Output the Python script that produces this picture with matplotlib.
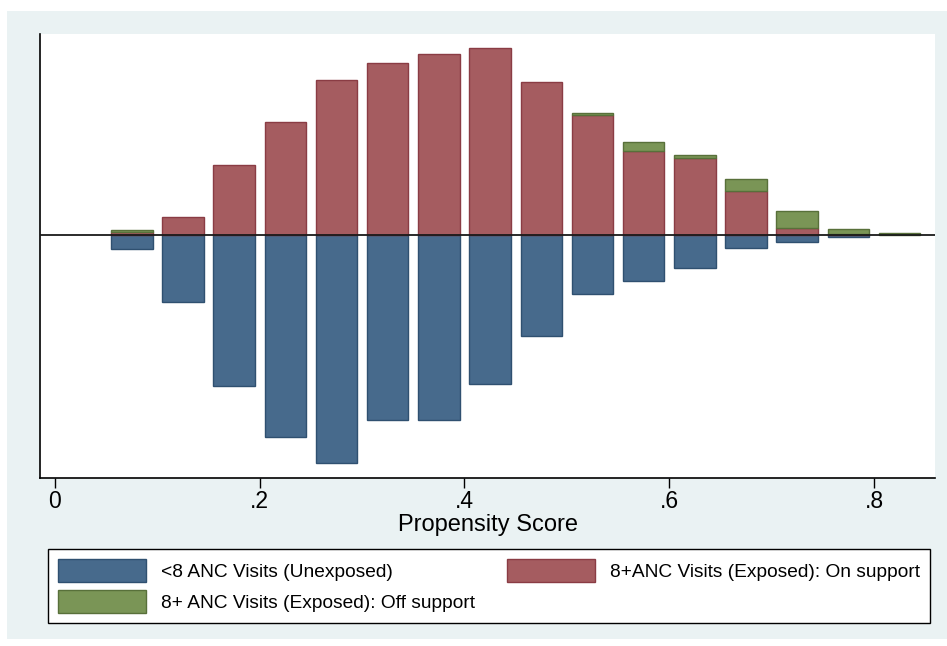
import numpy as np
import matplotlib
matplotlib.use("Agg")
import matplotlib.pyplot as plt
from matplotlib.patches import Rectangle, Patch

plt.rcParams['font.family'] = ['Liberation Sans', 'DejaVu Sans']

# bin centres of the propensity score histogram (bin width .05)
centres = [0.075, 0.125, 0.175, 0.225, 0.275, 0.325, 0.375, 0.425,
           0.475, 0.525, 0.575, 0.625, 0.675, 0.725, 0.775, 0.825]
# heights (arbitrary units, no y scale shown)
unexposed = [13.4, 66.4, 151, 202, 227.4, 185, 184.7, 148.4,
             100.7, 58.4, 45.7, 33, 12.4, 6.7, 1.4, 0]
exposed_on = [3.3, 18, 70.3, 113.3, 155, 172, 181.3, 187.3,
              153.3, 120.3, 84.6, 77, 44.3, 7.6, 1, 0]
exposed_off = [2, 0, 0, 0, 0, 0, 0, 0,
               0, 2.3, 8.4, 3.3, 11.7, 16.7, 5.3, 2]

xticks = [0, 0.2, 0.4, 0.6, 0.8]
xticklabels = ['0', '.2', '.4', '.6', '.8']
labels = ['<8 ANC Visits (Unexposed)',
          '8+ANC Visits (Exposed): On support',
          '8+ ANC Visits (Exposed): Off support']

blue, blue_e = '#476a8c', '#2f5070'
red, red_e = '#a55c60', '#8a3c44'
green, green_e = '#7a9556', '#58703a'

W, H = 947, 646
fig = plt.figure(figsize=(W / 100, H / 100), dpi=100, facecolor='white')
# stata-like graph region, behind everything
fig.patches.append(Rectangle((7 / W, 1 - 639 / H), 1 - 7 / W, (639 - 11) / H,
                             transform=fig.transFigure, facecolor='#eaf2f3',
                             edgecolor='none', zorder=-10))

ax = fig.add_axes([40 / W, 1 - 478 / H, (935 - 40) / W, (478 - 34) / H])
ax.set_facecolor('white')

c = np.array(centres)
u = np.array(unexposed)
on = np.array(exposed_on)
off = np.array(exposed_off)
bw = 0.0405

# skip empty bins so no stray outlines are drawn
m = u > 0
ax.bar(c[m], -u[m], width=bw, color=blue, edgecolor=blue_e, linewidth=1)
m = on > 0
ax.bar(c[m], on[m], width=bw, color=red, edgecolor=red_e, linewidth=1)
m = off > 0
ax.bar(c[m], off[m], width=bw, bottom=on[m], color=green, edgecolor=green_e,
       linewidth=1)
ax.axhline(0, color='#1a1a1a', linewidth=1.3, zorder=5)

ax.set_xlim(-0.01465, 0.8596)
ax.set_ylim(-242.7, 201.3)
ax.set_xticks(xticks)
ax.set_xticklabels(xticklabels, fontsize=16.5)
ax.set_yticks([])
ax.tick_params(axis='x', direction='out', length=7, width=1, pad=2, colors='black')
for s in ['top', 'right']:
    ax.spines[s].set_visible(False)
for s in ['left', 'bottom']:
    ax.spines[s].set_linewidth(1.2)
    ax.spines[s].set_color('black')
ax.set_xlabel('Propensity Score', fontsize=17, labelpad=0)

handles = [Patch(facecolor=blue, edgecolor=blue_e),
           Patch(facecolor=green, edgecolor=green_e),
           Patch(facecolor=red, edgecolor=red_e)]
leg = fig.legend(handles, [labels[0], labels[2], labels[1]], ncol=2,
                 loc='upper left', bbox_to_anchor=(48 / W, 1 - 549 / H),
                 fontsize=13.8, frameon=True, fancybox=False,
                 edgecolor='black', framealpha=1, borderpad=0.52,
                 handlelength=4.6, handleheight=1.47, handletextpad=0.75,
                 labelspacing=0.42, columnspacing=1.7, borderaxespad=0)
leg.get_frame().set_linewidth(1)

fig.savefig('out.png', dpi=100, facecolor='white')
